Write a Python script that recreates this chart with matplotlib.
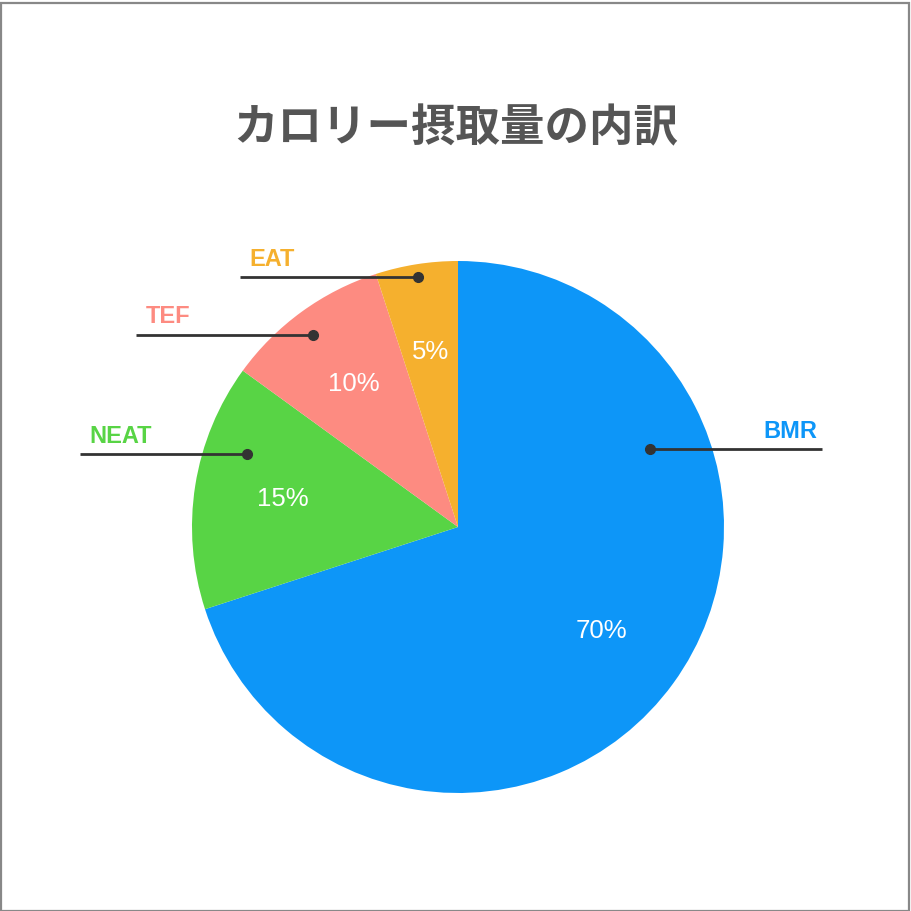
import matplotlib.pyplot as plt
import numpy as np
from matplotlib.patches import Rectangle

plt.rcParams['font.family'] = ['Liberation Sans', 'Noto Sans CJK JP', 'DejaVu Sans']

# data
labels = ['BMR', 'NEAT', 'TEF', 'EAT']
shares = [70, 15, 10, 5]
colors = ['#0d96f8', '#58d445', '#fd8b81', '#f5b02e']

# leader dot position (angle deg, radius frac) and label line end x (data units)
dot_angle = [22, 161, 127, 99]
dot_radius = [0.78, 0.84, 0.905, 0.95]
line_end_x = [1.37, -1.42, -1.21, -0.82]

W = 911
fig = plt.figure(figsize=(9.11, 9.11), dpi=100)
fig.patch.set_facecolor('white')
fig.patches.append(Rectangle((0.5 / W, 0.5 / W), 1 - 3 / W, 1 - 3 / W,
                             transform=fig.transFigure, fill=False,
                             edgecolor='#888888', linewidth=1.6))

cx, cy, R = 458, 527, 266
ax = fig.add_axes([(cx - R) / W, (W - cy - R) / W, 2 * R / W, 2 * R / W])

wedges, texts, autotexts = ax.pie(
    shares, colors=colors, startangle=90, counterclock=False, radius=1,
    autopct='%d%%', pctdistance=0.665,
    textprops=dict(color='white', fontsize=18.5))
ax.set_xlim(-1, 1)
ax.set_ylim(-1, 1)
ax.set_aspect('equal')
ax.axis('off')

for i, lab in enumerate(labels):
    a = np.deg2rad(dot_angle[i])
    x0 = dot_radius[i] * np.cos(a)
    y0 = dot_radius[i] * np.sin(a)
    x1 = line_end_x[i]
    ax.plot([x0, x1], [y0, y0], color='#333333', lw=2, clip_on=False, solid_capstyle='butt')
    ax.plot(x0, y0, 'o', color='#333333', ms=7, clip_on=False)
    if x1 > x0:
        ax.text(x1 - 0.02, y0 + 0.025, lab, ha='right', va='bottom',
                color=colors[i], fontsize=17, fontweight='bold')
    else:
        ax.text(x1 + 0.035, y0 + 0.025, lab, ha='left', va='bottom',
                color=colors[i], fontsize=17, fontweight='bold')

fig.text(456 / W, 1 - 128 / W, 'カロリー摂取量の内訳', ha='center', va='center',
         fontsize=32, fontweight='bold', color='#555555',
         family=['Noto Sans CJK JP', 'DejaVu Sans'])

fig.savefig('out.png', dpi=100, facecolor='white')
